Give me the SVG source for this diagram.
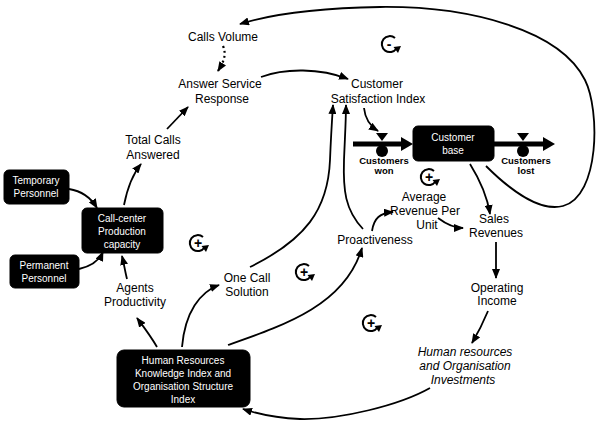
<svg xmlns="http://www.w3.org/2000/svg" width="597" height="425" viewBox="0 0 597 425">
<style>
.lbl{font-family:"Liberation Sans",Arial,sans-serif;font-size:12px;fill:#000;text-anchor:middle}
.it{font-style:italic}
.bx{fill:#000;stroke:#000}
.bt{font-family:"Liberation Sans",Arial,sans-serif;font-size:10px;fill:#fff;text-anchor:middle}
.vt{font-family:"Liberation Sans",Arial,sans-serif;font-size:9.5px;font-weight:bold;fill:#000;text-anchor:middle}
.c{fill:none;stroke:#000;stroke-width:1.8;marker-end:url(#ah)}
.d{fill:none;stroke:#000;stroke-width:2.2;stroke-dasharray:2 3;marker-end:url(#ah)}
.pipe{fill:none;stroke:#000;stroke-width:5}
.sign{font-family:"Liberation Sans",Arial,sans-serif;font-size:14px;font-weight:bold;fill:#000;text-anchor:middle}
.ring{fill:none;stroke:#000;stroke-width:2}
</style>
<defs>
<marker id="ah" viewBox="0 0 10 8" refX="9" refY="4" markerWidth="10" markerHeight="8" markerUnits="userSpaceOnUse" orient="auto">
<path d="M0,0 L10,4 L0,8 z" fill="#000"/>
</marker>
<g id="loop">
<path class="ring" d="M5,-6 A8,8 0 1 0 6.5,4.5"/>
<path d="M3.5,3 L11,2 L8,9 z" fill="#000"/>
</g>
</defs>

<g id="connectors">
<path class="c" d="M486,166 C510,190 540,212 563,206 C600,196 600,110 585,80 C560,30 470,6 380,7 C320,8 272,14 240,24"/>
<path class="d" d="M223,46 C227,55 223,63 218,71"/>
<path class="c" d="M261,77 C285,68 320,68 348,79"/>
<path class="c" d="M167,129 L188,107"/>
<path class="c" d="M124,205 C127,190 132,175 141,164"/>
<path class="c" d="M69,189 C82,191 91,198 97,208"/>
<path class="c" d="M79,269 C92,266 99,261 103,252"/>
<path class="c" d="M127,279 C125,271 124,264 122,256"/>
<path class="c" d="M157,347 C150,335 143,326 137,318"/>
<path class="c" d="M182,347 C185,312 200,292 219,285"/>
<path class="c" d="M228,345 C285,325 345,305 362,248"/>
<path class="c" d="M250,267 C305,240 328,210 330,160 C331,135 332,120 333,105"/>
<path class="c" d="M363,229 C345,210 343,190 344,160 C345,135 346,120 346,105"/>
<path class="c" d="M372,231 C374,218 380,213 393,212"/>
<path class="c" d="M364,108 C365,118 370,126 378,131"/>
<path class="c" d="M470,164 C480,180 487,195 490,214"/>
<path class="c" d="M438,218 C446,224 453,228 463,228"/>
<path class="c" d="M496,242 L496,278"/>
<path class="c" d="M488,311 C483,323 478,333 472,343"/>
<path class="c" d="M430,388 C400,405 340,420 300,419 C275,418 258,414 243,409"/>
</g>

<g id="flow-in">
<path class="pipe" d="M353,144 L403,144"/>
<path d="M401,137 L413,144 L401,151 z" fill="#000"/>
<path d="M376,133 L388,133 L382,141 z" fill="#000"/>
<circle cx="382" cy="151" r="6" fill="#000"/>
<text class="vt" x="384" y="164">Customers</text>
<text class="vt" x="384" y="174">won</text>
</g>

<g id="flow-out">
<path class="pipe" d="M494,144 L545,144"/>
<path d="M543,137 L555,144 L543,151 z" fill="#000"/>
<path d="M517,133 L529,133 L523,141 z" fill="#000"/>
<circle cx="523" cy="151" r="6" fill="#000"/>
<text class="vt" x="526" y="164">Customers</text>
<text class="vt" x="526" y="174">lost</text>
</g>

<g id="customer-base">
<rect class="bx" x="413" y="126" width="81" height="35" rx="5"/>
<text class="bt" x="453" y="141">Customer</text>
<text class="bt" x="453" y="154">base</text>
</g>

<g id="temporary">
<rect class="bx" x="4" y="170" width="65" height="34" rx="5"/>
<text class="bt" x="36" y="184">Temporary</text>
<text class="bt" x="36" y="197">Personnel</text>
</g>

<g id="permanent">
<rect class="bx" x="10" y="255" width="69" height="33" rx="5"/>
<text class="bt" x="44" y="269">Permanent</text>
<text class="bt" x="44" y="282">Personnel</text>
</g>

<g id="callcenter">
<rect class="bx" x="82" y="208" width="81" height="45" rx="5"/>
<text class="bt" x="122" y="222">Call-center</text>
<text class="bt" x="122" y="235">Production</text>
<text class="bt" x="122" y="248">capacity</text>
</g>

<g id="hr">
<rect class="bx" x="117" y="350" width="133" height="57" rx="7"/>
<text class="bt" x="183" y="364">Human Resources</text>
<text class="bt" x="183" y="377">Knowledge Index and</text>
<text class="bt" x="183" y="390">Organisation Structure</text>
<text class="bt" x="183" y="403">Index</text>
</g>

<g id="calls-volume"><text class="lbl" x="223" y="41">Calls Volume</text></g>
<g id="answer"><text class="lbl" x="220" y="88">Answer Service</text><text class="lbl" x="222" y="103">Response</text></g>
<g id="csi"><text class="lbl" x="377" y="88">Customer</text><text class="lbl" x="378" y="103">Satisfaction Index</text></g>
<g id="total-calls"><text class="lbl" x="153" y="144">Total Calls</text><text class="lbl" x="153" y="159">Answered</text></g>
<g id="agents"><text class="lbl" x="135" y="292">Agents</text><text class="lbl" x="135" y="306">Productivity</text></g>
<g id="one-call"><text class="lbl" x="247" y="282">One Call</text><text class="lbl" x="247" y="296">Solution</text></g>
<g id="proactiveness"><text class="lbl" x="375" y="244">Proactiveness</text></g>
<g id="arpu"><text class="lbl" x="424" y="201">Average</text><text class="lbl" x="425" y="215">Revenue Per</text><text class="lbl" x="427" y="229">Unit</text></g>
<g id="sales"><text class="lbl" x="494" y="223">Sales</text><text class="lbl" x="496" y="237">Revenues</text></g>
<g id="operating"><text class="lbl" x="497" y="292">Operating</text><text class="lbl" x="497" y="305">Income</text></g>
<g id="investments"><text class="lbl it" x="465" y="356">Human resources</text><text class="lbl it" x="465" y="370">and Organisation</text><text class="lbl it" x="463" y="384">Investments</text></g>

<g id="loops">
<use href="#loop" x="390" y="44"/><text class="sign" x="389" y="49">-</text>
<use href="#loop" x="198" y="243"/><text class="sign" x="198" y="248">+</text>
<use href="#loop" x="304" y="272"/><text class="sign" x="304" y="277">+</text>
<use href="#loop" x="429" y="177"/><text class="sign" x="429" y="182">+</text>
<use href="#loop" x="371" y="323"/><text class="sign" x="371" y="328">+</text>
</g>
</svg>
